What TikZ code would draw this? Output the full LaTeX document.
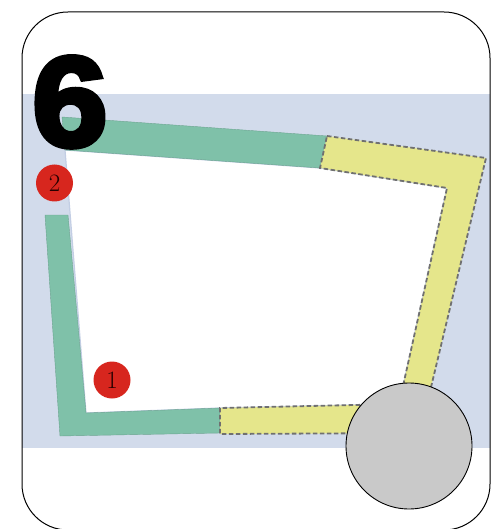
\documentclass[tikz,border=0pt]{standalone}
\usepackage{fontspec}
\newfontfamily\boldsans[FakeBold=4]{Liberation Sans Bold}
\begin{document}
\begin{tikzpicture}[x=1pt,y=-1pt]
\definecolor{bandblue}{HTML}{D2DBEB}
\definecolor{edgeblue}{HTML}{C3CEE4}
\definecolor{trackgreen}{HTML}{7FC1A9}
\definecolor{trackyellow}{HTML}{E5E68B}
\definecolor{dashgray}{HTML}{707070}
\definecolor{hubgray}{HTML}{C9C9C9}
\definecolor{badgered}{HTML}{D7261E}
\tikzset{
  greenpart/.style={fill=trackgreen, draw=trackgreen!85!black, line width=0.4pt},
  yellowpart/.style={fill=trackyellow, draw=dashgray, line width=1.8pt, dash pattern=on 4.5pt off 2.5pt},
  badge/.style={circle, fill=badgered, minimum size=37pt, inner sep=0pt, text=black!85!red, font=\fontsize{25}{25}\selectfont},
  hub/.style={circle, fill=hubgray, draw=black, line width=0.9pt, minimum size=126pt, inner sep=0pt},
}
\useasboundingbox (0,0) rectangle (493,529);
% blue band
\fill[bandblue] (22,94) rectangle (490,448);
% white interior
\filldraw[fill=white, draw=edgeblue, line width=1.2pt]
  (65,150) -- (320,168) -- (447,188) -- (399,404) -- (220,408) -- (86,413) -- cycle;
% green parts
\filldraw[greenpart] (62,117) -- (327,136) -- (320,168) -- (65,150) -- cycle;
\filldraw[greenpart] (45,215) -- (68,215) -- (86,413) -- (220,408) -- (220,433) -- (60,436) -- cycle;
% yellow part
\filldraw[yellowpart] (327,136) -- (486,158) -- (420,433) -- (220,434) -- (220,408) -- (399,404) -- (447,188) -- (320,168) -- cycle;
% hub circle
\node[hub] (hubc) at (409,446) {};
% badges
\node[badge] (badge2) at (54.5,183) {2};
\node[badge] (badge1) at (112,380) {1};
% big number
\node[anchor=base west, inner sep=0pt, xscale=1.06, font=\boldsans\fontsize{128}{128}\selectfont] (six) at (32,146) {6};
% frame
\draw[line width=1pt, rounded corners=46pt] (22,12) rectangle (490,530);
\end{tikzpicture}
\end{document}
